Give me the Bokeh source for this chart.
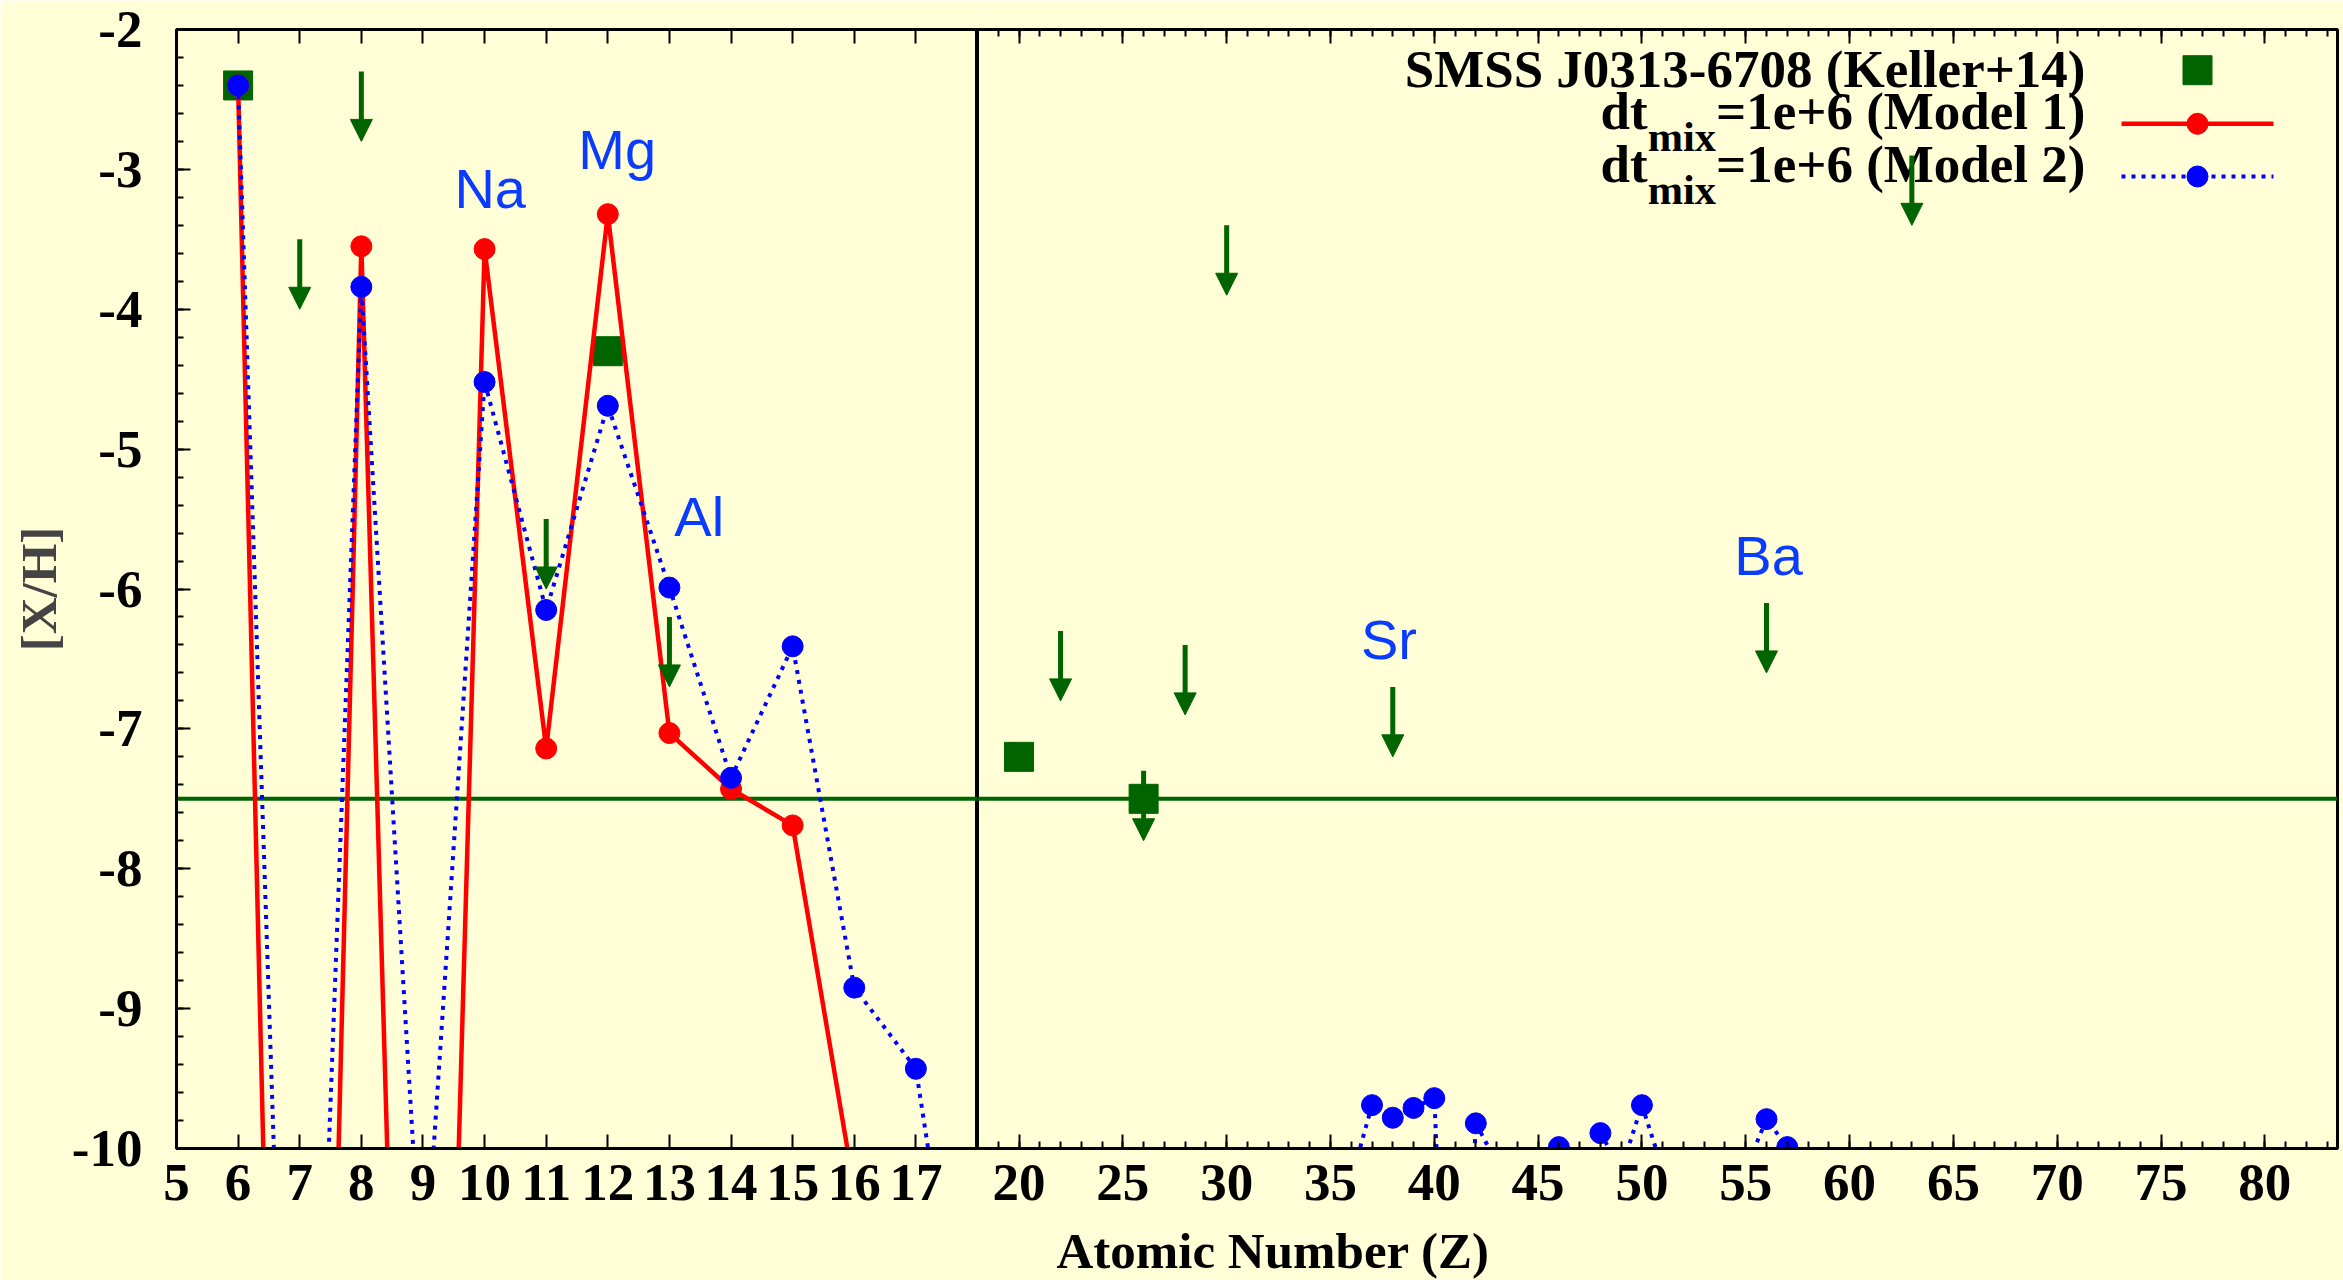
from bokeh.plotting import figure
from bokeh.models import (Span, Label, Arrow, NormalHead, LinearAxis, FixedTicker,
                          SingleIntervalTicker, ColumnDataSource)
from bokeh.layouts import row, column
from bokeh.embed import file_html
from bokeh.resources import INLINE

# ---------------- data ----------------
# SMSS J0313-6708 (Keller+14): detections
obs_z = [6, 12, 20, 26]
obs_xh = [-2.40, -4.30, -7.20, -7.50]
# upper limits (arrow starts at the limit)
lim_z = [7, 8, 11, 13, 22, 26, 28, 30, 38, 56, 63]
lim_xh = [-3.50, -2.30, -5.50, -6.20, -6.30, -7.30, -6.40, -3.40, -6.70, -6.10, -2.90]

# dt_mix=1e+6 (Model 1)
m1_z = [6, 7, 8, 9, 10, 11, 12, 13, 14, 15, 16]
m1_xh = [-2.40, -21.0, -3.55, -18.9, -3.57, -7.14, -3.32, -7.03, -7.43, -7.69, -10.29]

# dt_mix=1e+6 (Model 2)
m2_z = [6, 7, 8, 9, 10, 11, 12, 13, 14, 15, 16, 17, 18,
        36, 37, 38, 39, 40, 41, 42, 43, 45, 46, 47, 48, 49, 50, 51, 55, 56, 57, 58]
m2_xh = [-2.40, -15.5, -3.84, -11.15, -4.52, -6.15, -4.69, -5.99, -7.35, -6.41, -8.85, -9.43, -12.3,
         -10.22, -9.69, -9.78, -9.71, -9.64, -13.0, -9.82, -10.10, -13.0, -9.99, -13.0, -9.89,
         -10.15, -9.69, -10.15, -10.15, -9.79, -9.99, -13.0]

ref_level = -7.5

# element annotations (left edge, baseline)
el_left_names = ["Na", "Mg", "Al"]
el_left_z = [9.51, 11.52, 13.08]
el_left_y = [-3.28, -3.00, -5.62]
el_right_names = ["Sr", "Ba"]
el_right_z = [36.47, 54.45]
el_right_y = [-6.50, -5.90]

left_xticks = [5, 6, 7, 8, 9, 10, 11, 12, 13, 14, 15, 16, 17]
right_xticks = [20, 25, 30, 35, 40, 45, 50, 55, 60, 65, 70, 75, 80]
y_ticks = [-2, -3, -4, -5, -6, -7, -8, -9, -10]
y_tick_labels = ["-2", "-3", "-4", "-5", "-6", "-7", "-8", "-9", "-10"]

x_title = "Atomic Number (Z)"
y_title = "[X/H]"
legend_labels = ["SMSS J0313-6708 (Keller+14)", "(Model 1)", "(Model 2)"]

# ---------------- style ----------------
BG = "#FFFED6"
GREEN = "#006400"
RED = "#FF0000"
BLUE = "#0000FF"
LBLUE = "#0A3CFF"
SERIF = "Liberation Serif"
SANS = "Liberation Sans"
FSN = 53
FS = "53px"
W, H = 2343, 1280
LEFT_W = 977
TOP = 29
FRAME_H = 1119
TITLE_H = 57
TITLE_FS = 51
TICK_STANDOFF = 16
ARROW_LEN = 0.5
BASE_CORR = 0.35   # em shift so that the text baseline lands where wanted

obs_src = ColumnDataSource(dict(z=obs_z, xh=obs_xh))
lim_src = ColumnDataSource(dict(z=lim_z, top=lim_xh, tip=[v - ARROW_LEN for v in lim_xh]))
m1_src = ColumnDataSource(dict(z=m1_z, xh=m1_xh))
m2_src = ColumnDataSource(dict(z=m2_z, xh=m2_xh))

ppy = FRAME_H / 8.0   # pixels per dex


def style_axis(ax, minor=True):
    ax.axis_line_width = 3
    ax.axis_line_color = "black"
    ax.major_tick_in = 14
    ax.major_tick_out = 0
    ax.major_tick_line_width = 2
    ax.minor_tick_in = 7 if minor else 0
    ax.minor_tick_out = 0
    ax.minor_tick_line_width = 2
    ax.major_label_text_font = SERIF
    ax.major_label_text_font_style = "bold"
    ax.major_label_text_font_size = FS
    ax.major_label_text_color = "black"


def hide_labels(ax, ticks):
    ax.major_label_overrides = {t: "" for t in ticks}
    ax.major_label_text_font_size = "1px"
    ax.major_label_standoff = 0


def make_fig(width, height, xr, left_border, right_border, bottom_border, yaxis):
    p = figure(width=width, height=height, x_range=xr, y_range=(-10, -2),
               output_backend="svg", toolbar_location=None,
               y_axis_location="left" if yaxis else None,
               min_border_left=left_border, min_border_right=right_border,
               min_border_top=TOP, min_border_bottom=bottom_border,
               background_fill_color=BG, border_fill_color=BG,
               outline_line_color="black", outline_line_width=3)
    p.xgrid.visible = False
    p.ygrid.visible = False
    p.add_layout(Span(location=ref_level, dimension="width", line_color=GREEN,
                      line_width=4, level="underlay"))
    p.scatter("z", "xh", source=obs_src, marker="square", size=29,
              fill_color=GREEN, line_color=GREEN)
    p.line("z", "xh", source=m1_src, line_color=RED, line_width=4.5)
    p.scatter("z", "xh", source=m1_src, marker="circle", size=21,
              fill_color=RED, line_color=RED)
    p.line("z", "xh", source=m2_src, line_color=BLUE, line_width=4, line_dash="4 6")
    p.scatter("z", "xh", source=m2_src, marker="circle", size=21,
              fill_color=BLUE, line_color=BLUE)
    return p


def add_arrows(p):
    p.add_layout(Arrow(x_start="z", y_start="top", x_end="z", y_end="tip", source=lim_src,
                       line_color=GREEN, line_width=5,
                       end=NormalHead(size=22, fill_color=GREEN, line_color=GREEN, line_width=1)))


def text_label(p, x, y_base, text, font, size_px, color, bold=True, align="left"):
    y = y_base + BASE_CORR * size_px / ppy
    p.add_layout(Label(x=x, y=y, text=text, text_font=font, text_font_size=f"{size_px}px",
                       text_font_style="bold" if bold else "normal", text_color=color,
                       text_align=align, text_baseline="alphabetic"))


# ---------------- left panel (Z = 5..18) ----------------
p1 = make_fig(LEFT_W, H, (5, 18), 176, 0, H - TOP - FRAME_H, True)
xa = p1.xaxis[0]
xa.ticker = FixedTicker(ticks=left_xticks, minor_ticks=[])
style_axis(xa, minor=False)
xa.major_label_standoff = TICK_STANDOFF
top1 = LinearAxis(ticker=FixedTicker(ticks=left_xticks, minor_ticks=[]))
style_axis(top1, minor=False)
hide_labels(top1, left_xticks)
p1.add_layout(top1, "above")

ya = p1.yaxis[0]
ya.ticker = SingleIntervalTicker(interval=1, num_minor_ticks=5)
style_axis(ya)
ya.major_label_overrides = {t: s for t, s in zip(y_ticks, y_tick_labels)}
ya.major_label_standoff = 34
ya.axis_label = y_title
ya.axis_label_text_font = SERIF
ya.axis_label_text_font_style = "bold"
ya.axis_label_text_font_size = "51px"
ya.axis_label_standoff = 2

for name, z, y in zip(el_left_names, el_left_z, el_left_y):
    text_label(p1, z, y, name, SANS, 56, LBLUE, bold=False)
add_arrows(p1)

# ---------------- right panel (Z = 18..83.5) ----------------
XR2 = (18, 83.5)
H2 = H - TITLE_H
p2 = make_fig(W - LEFT_W, H2, XR2, 0, 6, H2 - TOP - FRAME_H, False)
xb = p2.xaxis[0]
xb.ticker = SingleIntervalTicker(interval=5, num_minor_ticks=5)
style_axis(xb)
xb.major_label_standoff = TICK_STANDOFF
top2 = LinearAxis(ticker=SingleIntervalTicker(interval=5, num_minor_ticks=5))
style_axis(top2)
hide_labels(top2, right_xticks)
p2.add_layout(top2, "above")

for name, z, y in zip(el_right_names, el_right_z, el_right_y):
    text_label(p2, z, y, name, SANS, 56, LBLUE, bold=False)

# ---------------- manual legend (right panel, top right) ----------------
frame_w2 = (W - LEFT_W) - 6
ppu = frame_w2 / (XR2[1] - XR2[0])          # pixels per Z unit


def ydat(py):
    return -2 - (py - TOP) / ppy


def xdat(px):
    return XR2[0] + (px - LEFT_W) / ppu


text_right = xdat(2085)
key_x = xdat(2197)
key_x0, key_x1 = xdat(2121), xdat(2273)
rows_key = [ydat(69.7), ydat(123.3), ydat(176)]
rows_base = [ydat(86.7), ydat(129), ydat(182)]
rows_sub = [ydat(151), ydat(204)]

# Times-Bold advance widths (1/1000 em)
TW = {"d": 556, "t": 333, "m": 833, "i": 278, "x": 500, "=": 570, "1": 500, "e": 444,
      "+": 570, "6": 500, " ": 250, "(": 333, "M": 944, "o": 500, "l": 278, ")": 333, "2": 500}


def tw(s, size):
    return sum(TW[c] for c in s) / 1000.0 * size


SUB = 42.4
p2.scatter([key_x], [rows_key[0]], marker="square", size=29, fill_color=GREEN, line_color=GREEN)
p2.line([key_x0, key_x1], [rows_key[1], rows_key[1]], line_color=RED, line_width=4.5)
p2.scatter([key_x], [rows_key[1]], marker="circle", size=21, fill_color=RED, line_color=RED)
p2.line([key_x0, key_x1], [rows_key[2], rows_key[2]], line_color=BLUE, line_width=4, line_dash="4 6")
p2.scatter([key_x], [rows_key[2]], marker="circle", size=21, fill_color=BLUE, line_color=BLUE)

text_label(p2, text_right, rows_base[0], legend_labels[0], SERIF, FSN, "black", align="right")
for i, lab in enumerate(legend_labels[1:]):
    main = "=1e+6 " + lab
    x_main = text_right - tw(main, FSN) / ppu
    x_sub = x_main - tw("mix", SUB) / ppu
    x_dt = x_sub - tw("dt", FSN) / ppu
    text_label(p2, x_dt, rows_base[i + 1], "dt", SERIF, FSN, "black")
    text_label(p2, x_sub, rows_sub[i], "mix", SERIF, SUB, "black")
    text_label(p2, x_main, rows_base[i + 1], main, SERIF, FSN, "black")

add_arrows(p2)

# ---------------- x-axis title strip under the right panel ----------------
p3 = figure(width=W - LEFT_W, height=TITLE_H, x_range=(LEFT_W, W), y_range=(0, TITLE_H),
            output_backend="svg", toolbar_location=None,
            x_axis_location=None, y_axis_location=None,
            min_border_left=0, min_border_right=0, min_border_top=0, min_border_bottom=0,
            background_fill_color=BG, border_fill_color=BG, outline_line_color=None)
p3.xgrid.visible = False
p3.ygrid.visible = False
title_base = H - 1268.8
p3.add_layout(Label(x=1274, y=title_base + BASE_CORR * TITLE_FS, text=x_title, text_font=SERIF,
                    text_font_style="bold", text_font_size=f"{TITLE_FS}px", text_color="black",
                    text_align="center", text_baseline="alphabetic"))

layout = row(p1, column(p2, p3, spacing=0), spacing=0)
open("out.html", "w").write(file_html(layout, INLINE))
